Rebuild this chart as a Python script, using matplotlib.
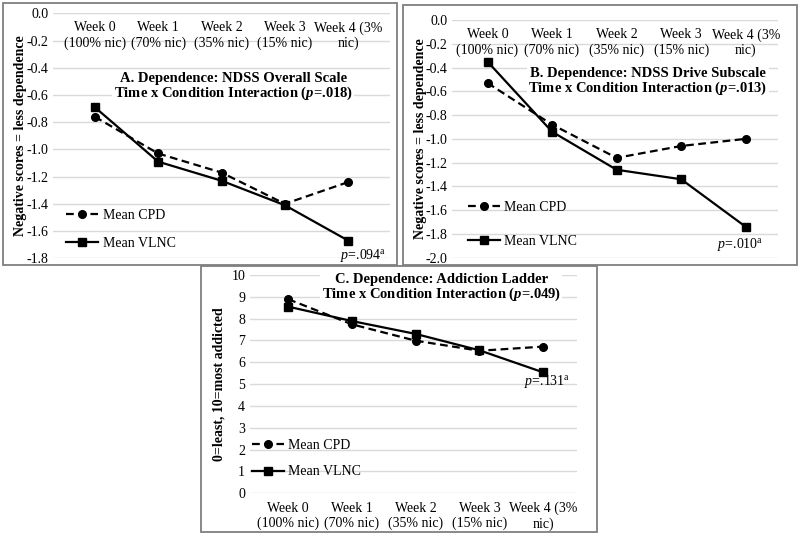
import matplotlib.pyplot as plt
from matplotlib.patches import Rectangle

plt.rcParams['font.family'] = 'Liberation Serif'
plt.rcParams['mathtext.fontset'] = 'custom'
plt.rcParams['mathtext.rm'] = 'Liberation Serif'
plt.rcParams['mathtext.it'] = 'Liberation Serif:italic'
plt.rcParams['mathtext.bf'] = 'Liberation Serif:bold'
plt.rcParams['mathtext.bfit'] = 'Liberation Serif:bold:italic'

weeks = ["Week 0\n(100% nic)", "Week 1\n(70% nic)", "Week 2\n(35% nic)",
         "Week 3\n(15% nic)", "Week 4 (3%\nnic)"]

a_cpd = [-0.76, -1.03, -1.17, -1.40, -1.24]
a_vlnc = [-0.69, -1.09, -1.23, -1.41, -1.67]
b_cpd = [-0.53, -0.88, -1.16, -1.06, -1.00]
b_vlnc = [-0.35, -0.94, -1.26, -1.34, -1.74]
c_cpd = [8.89, 7.74, 6.99, 6.53, 6.72]
c_vlnc = [8.55, 7.89, 7.30, 6.55, 5.54]

W, H = 800, 535
fig = plt.figure(figsize=(8, 5.35), dpi=100)


def px_axes(l, r, t, b):
    return fig.add_axes([l / W, 1 - b / H, (r - l) / W, (b - t) / H])


def box(l, r, t, b):
    fig.patches.append(Rectangle((l / W, 1 - b / H), (r - l) / W, (b - t) / H,
                                 transform=fig.transFigure, fill=False,
                                 ec='#7f7f7f', lw=1.3))


def panel(ax, cpd, vlnc, ylim, yticks, fmt, xlim, title, title_xy, ylabel,
          labelpad, leg_anchor, leg_space, ptext, pxy):
    x = range(len(cpd))
    ax.plot(x, cpd, color='black', lw=1.6, ls=(0, (3.5, 2)), marker='o', ms=5.5,
            label='Mean CPD')
    ax.plot(x, vlnc, color='black', lw=1.6, marker='s', ms=6, label='Mean VLNC')
    ax.set_ylim(*ylim)
    ax.set_xlim(*xlim)
    ax.set_yticks(yticks)
    ax.set_yticklabels([fmt.format(v) for v in yticks])
    ax.grid(axis='y', color='#d9d9d9', lw=1)
    ax.set_axisbelow(True)
    for s in ax.spines.values():
        s.set_visible(False)
    ax.tick_params(length=0, labelsize=10)
    ax.set_ylabel(ylabel, fontsize=10, fontweight='bold', labelpad=labelpad)
    ax.text(title_xy[0], title_xy[1], title, transform=ax.transAxes,
            ha='center', va='center', fontsize=10.5, fontweight='bold',
            linespacing=1.0, zorder=1,
            bbox=dict(fc='white', ec='none', pad=1))
    ax.text(pxy[0], pxy[1], ptext, ha='center', va='center', fontsize=10)
    ax.legend(loc='lower left', bbox_to_anchor=leg_anchor, frameon=False,
              fontsize=10, handlelength=2.3, handletextpad=0.3,
              labelspacing=leg_space, borderpad=0, borderaxespad=0)


# panel A
box(3, 397, 3, 265)
axA = px_axes(53, 390, 13.3, 258.3)
panel(axA, a_cpd, a_vlnc, (-1.8, 0), [0, -0.2, -0.4, -0.6, -0.8, -1.0, -1.2,
      -1.4, -1.6, -1.8], '{:.1f}', (-0.66, 4.66),
      "A. Dependence: NDSS Overall Scale\nTime x Condition Interaction ($\\mathbfit{p}$=.018)",
      (0.535, 0.698), 'Negative scores = less dependence', -0.5,
      (0.04, 0.035), 1.05,
      "$\\mathit{p}$=.094$^{\\mathrm{a}}$", (4.24, -1.78))
axA.set_xticks([])
for i, w in enumerate(weeks):
    axA.text(i, -0.165, w, ha='center', va='center', fontsize=10)

# panel B
box(403, 797, 5, 265)
axB = px_axes(452, 778, 20, 257.7)
panel(axB, b_cpd, b_vlnc, (-2.0, 0), [0, -0.2, -0.4, -0.6, -0.8, -1.0, -1.2,
      -1.4, -1.6, -1.8, -2.0], '{:.1f}', (-0.55, 4.5),
      "B. Dependence: NDSS Drive Subscale\nTime x Condition Interaction ($\\mathbfit{p}$=.013)",
      (0.60, 0.74), 'Negative scores = less dependence', -1.5,
      (0.05, 0.04), 1.5,
      "$\\mathit{p}$=.010$^{\\mathrm{a}}$", (3.92, -1.89))
axB.set_xticks([])
for i, w in enumerate(weeks):
    axB.text(i, -0.19, w, ha='center', va='center', fontsize=10)

# panel C
box(201, 597, 266, 532)
axC = px_axes(250, 577, 275, 493.3)
panel(axC, c_cpd, c_vlnc, (0, 10), list(range(0, 11)), '{:d}', (-0.6, 4.53),
      "C. Dependence: Addiction Ladder\nTime x Condition Interaction ($\\mathbfit{p}$=.049)",
      (0.585, 0.94), '0=least, 10=most addicted', 4,
      (0.005, 0.068), 0.95,
      "$\\mathit{p}$=.131$^{\\mathrm{a}}$", (4.06, 5.1))
axC.set_xticks(range(len(weeks)))
axC.set_xticklabels(weeks)
axC.tick_params(axis='x', pad=6)

fig.savefig('out.png', dpi=100)
